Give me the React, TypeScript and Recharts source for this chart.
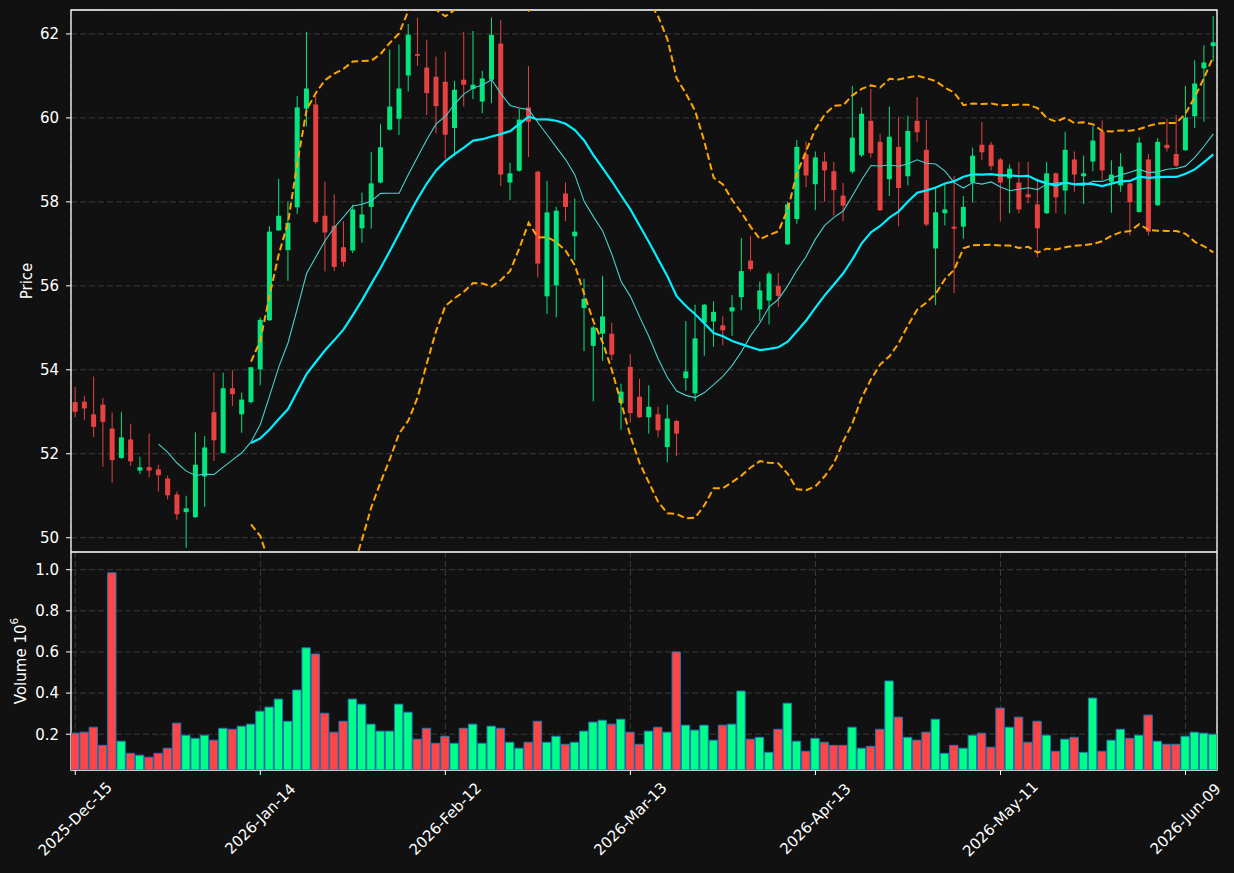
import React from 'react';
import { ComposedChart, Bar, Line, XAxis, YAxis, CartesianGrid, ReferenceArea, Cell } from 'recharts';

const tickLabels = ['2025-Dec-15', '2026-Jan-14', '2026-Feb-12', '2026-Mar-13', '2026-Apr-13', '2026-May-11', '2026-Jun-09'];

const openP = [
  53.23, 53.24, 52.94, 53.17, 52.6, 51.9, 52.34, 51.6, 51.68, 51.63,
  51.41, 51.03, 50.61, 50.49, 51.46, 52.99, 52.02, 53.56, 52.94, 53.23,
  54.01, 55.18, 57.32, 56.85, 57.87, 60.22, 60.32, 57.67, 57.43, 56.92,
  56.84, 57.37, 57.88, 58.46, 59.72, 59.98, 61.01, 61.52, 61.2, 60.98,
  60.86, 59.76, 60.91, 60.69, 60.39, 60.91, 61.77, 58.46, 58.74, 60.25,
  58.72, 55.75, 56.01, 58.2, 57.18, 55.47, 54.57, 54.86, 54.86, 53.21,
  54.07, 53.36, 52.87, 52.94, 52.16, 52.78, 53.8, 53.44, 55.12, 55.15,
  55.06, 55.39, 55.73, 56.6, 55.44, 55.65, 56.0, 56.99, 57.59, 59.13,
  58.42, 58.96, 58.73, 58.15, 58.72, 59.11, 59.93, 59.43, 58.54, 59.31,
  58.61, 59.93, 59.24, 56.89, 57.73, 57.41, 57.41, 58.46, 59.36, 59.36,
  59.01, 58.56, 58.46, 58.18, 57.94, 57.73, 58.68, 58.27, 59.01, 58.61,
  58.96, 59.67, 58.48, 58.39, 58.44, 57.76, 59.01, 57.92, 59.36, 59.14,
  59.23, 60.04, 61.18, 61.71,
];
const highP = [
  53.59, 53.38, 53.84, 53.33, 52.98, 53.0, 52.71, 51.93, 52.48, 51.74,
  51.48, 51.1, 51.0, 52.51, 52.42, 53.93, 53.93, 53.99, 53.46, 54.07,
  55.25, 57.42, 58.55, 58.01, 60.52, 62.05, 60.52, 58.48, 58.18, 57.54,
  57.93, 58.22, 59.19, 59.86, 61.63, 61.75, 62.24, 62.39, 61.86, 61.46,
  61.58, 60.88, 62.05, 62.07, 61.12, 62.39, 62.33, 58.93, 60.22, 61.23,
  58.74, 58.5, 57.88, 58.46, 58.08, 56.17, 55.05, 56.24, 55.12, 53.67,
  54.37, 53.79, 53.63, 53.12, 53.17, 52.81, 55.16, 55.55, 55.57, 55.63,
  55.27, 55.78, 57.14, 57.19, 56.1, 56.34, 56.31, 58.0, 59.47, 59.44,
  59.2, 59.18, 58.95, 58.45, 60.76, 60.25, 60.69, 59.62, 60.27, 60.03,
  60.05, 60.49, 59.95, 58.35, 58.44, 58.62, 58.14, 59.29, 59.9, 59.43,
  59.05, 58.89, 58.95, 58.95, 58.56, 58.95, 58.7, 59.67, 59.2, 59.1,
  59.8, 59.94, 58.99, 59.16, 58.46, 59.54, 59.14, 59.52, 59.98, 60.07,
  60.76, 61.37, 61.73, 62.43,
];
const lowP = [
  52.87, 52.8, 52.4, 51.69, 51.31, 51.88, 51.71, 51.52, 51.44, 51.1,
  50.91, 50.43, 49.76, 50.47, 50.74, 51.83, 52.0, 53.14, 52.5, 53.2,
  53.63, 55.16, 57.31, 56.12, 57.71, 59.8, 57.48, 56.34, 56.35, 56.46,
  56.78, 57.03, 57.36, 58.44, 59.7, 59.59, 60.63, 61.24, 60.07, 59.63,
  59.03, 59.09, 60.27, 60.45, 60.11, 60.35, 58.38, 58.04, 58.72, 59.07,
  56.2, 55.33, 55.25, 57.54, 56.61, 54.44, 53.25, 54.21, 54.23, 52.57,
  52.74, 52.85, 52.48, 52.39, 51.8, 51.95, 53.5, 53.25, 54.33, 54.55,
  54.58, 54.81, 55.42, 56.35, 55.16, 55.08, 55.5, 56.97, 57.48, 58.35,
  57.8, 58.0, 57.67, 57.54, 58.67, 59.07, 59.05, 57.78, 58.14, 57.42,
  58.39, 59.43, 57.42, 55.54, 57.44, 55.83, 57.12, 57.99, 58.99, 58.75,
  57.53, 57.73, 57.73, 57.97, 56.68, 57.71, 57.73, 57.71, 58.24, 57.95,
  58.73, 58.52, 57.74, 58.24, 57.2, 57.74, 57.2, 57.9, 59.2, 58.82,
  59.21, 59.76, 59.91, 61.35,
];
const closeP = [
  53.0, 53.08, 52.64, 52.76, 51.85, 52.39, 51.82, 51.68, 51.6, 51.49,
  51.01, 50.56, 50.7, 51.74, 52.15, 52.32, 53.56, 53.42, 53.29, 54.06,
  55.19, 57.29, 57.67, 57.5, 60.25, 60.7, 57.52, 57.27, 56.45, 56.57,
  57.82, 57.7, 58.44, 59.3, 60.27, 60.7, 61.98, 61.48, 60.59, 60.28,
  59.6, 60.67, 60.79, 60.79, 60.94, 61.98, 58.65, 58.68, 59.96, 59.91,
  56.53, 57.75, 57.79, 57.88, 57.29, 55.69, 55.01, 55.27, 54.36, 53.48,
  52.97, 52.87, 53.12, 52.56, 52.84, 52.48, 53.96, 54.75, 55.55, 55.38,
  54.94, 55.49, 56.35, 56.4, 55.89, 56.29, 55.76, 57.94, 59.31, 58.63,
  59.06, 58.75, 58.28, 57.91, 59.53, 60.1, 59.16, 57.8, 59.55, 58.33,
  59.69, 59.66, 57.46, 57.75, 57.82, 57.36, 57.88, 59.1, 59.18, 58.85,
  58.46, 58.79, 57.82, 58.11, 57.37, 58.68, 58.11, 59.24, 58.65, 58.68,
  59.46, 58.75, 58.65, 58.84, 57.99, 59.41, 57.29, 59.43, 59.28, 58.86,
  60.01, 60.82, 61.32, 61.8,
];
// volume in millions
const volumeM = [
  0.205, 0.21, 0.234, 0.146, 0.985, 0.166, 0.107, 0.098, 0.088, 0.107,
  0.132, 0.254, 0.195, 0.18, 0.195, 0.171, 0.229, 0.224, 0.239, 0.249,
  0.312, 0.332, 0.371, 0.263, 0.415, 0.62, 0.59, 0.302, 0.21, 0.263,
  0.371, 0.346, 0.249, 0.215, 0.215, 0.346, 0.307, 0.176, 0.229, 0.156,
  0.19, 0.156, 0.229, 0.249, 0.156, 0.239, 0.229, 0.161, 0.132, 0.161,
  0.263, 0.161, 0.19, 0.151, 0.161, 0.215, 0.259, 0.268, 0.249, 0.273,
  0.21, 0.151, 0.215, 0.234, 0.21, 0.6, 0.244, 0.22, 0.244, 0.171,
  0.244, 0.249, 0.41, 0.176, 0.185, 0.112, 0.224, 0.351, 0.166, 0.117,
  0.18, 0.161, 0.146, 0.146, 0.234, 0.132, 0.141, 0.224, 0.459, 0.283,
  0.185, 0.171, 0.21, 0.273, 0.107, 0.146, 0.132, 0.195, 0.205, 0.137,
  0.327, 0.234, 0.283, 0.161, 0.263, 0.195, 0.117, 0.176, 0.185, 0.112,
  0.376, 0.117, 0.171, 0.224, 0.18, 0.195, 0.293, 0.166, 0.151, 0.151,
  0.19, 0.21, 0.205, 0.2,
];

const xTicks = [0, 20, 40, 60, 80, 100, 120];
const priceTicks = [50, 52, 54, 56, 58, 60, 62];
const volTicks = [0.2, 0.4, 0.6, 0.8, 1.0];

const BG = '#111111';
const UP = '#05e57f';
const DOWN = '#e64242';
const VUP = '#00ff88';
const VDOWN = '#ff4545';
const GRID = '#3a3a3a';
const FONT = 'DejaVu Sans, sans-serif';
const FS = 15;
const X_DOMAIN: [number, number] = [-0.46, 123.4];
const P_DOMAIN: [number, number] = [49.66, 62.57];
const V_DOMAIN: [number, number] = [0.026, 1.086];

// moving averages / Bollinger bands derived from the closes (20-period, 2 sigma)
const sma = (n: number, i: number) => {
  if (i < n - 1) return null;
  let s = 0;
  for (let k = i - n + 1; k <= i; k++) s += closeP[k];
  return s / n;
};
const sd = (n: number, i: number) => {
  const m = sma(n, i);
  if (m == null) return null;
  let s = 0;
  for (let k = i - n + 1; k <= i; k++) s += (closeP[k] - m) ** 2;
  return Math.sqrt(s / (n - 1));
};

const rows = closeP.map((c, i) => {
  const m20 = sma(20, i);
  const s20 = sd(20, i);
  return {
    i,
    open: openP[i],
    high: highP[i],
    low: lowP[i],
    close: c,
    vol: volumeM[i],
    ma10: sma(10, i),
    ma20: m20,
    bbUp: m20 != null && s20 != null ? m20 + 2 * s20 : null,
    bbLow: m20 != null && s20 != null ? m20 - 2 * s20 : null,
  };
});

const Candle = (props: any) => {
  const { x, y, width, height, payload } = props;
  if (x == null || y == null || !payload) return null;
  const top = Math.min(y, y + height);
  const h = Math.abs(height);
  const range = payload.high - payload.low;
  const ppu = range > 0 ? h / range : 0;
  const up = payload.close >= payload.open;
  const color = up ? UP : DOWN;
  const bTop = top + (payload.high - Math.max(payload.open, payload.close)) * ppu;
  const bBot = top + (payload.high - Math.min(payload.open, payload.close)) * ppu;
  const cx = x + width / 2;
  return (
    <g>
      <line x1={cx} x2={cx} y1={top} y2={top + h} stroke={color} strokeWidth={1} />
      <rect x={x} y={bTop} width={width} height={Math.max(bBot - bTop, 1)} fill={color} />
    </g>
  );
};

const XTick = (props: any) => {
  const { x, y, payload } = props;
  const label = tickLabels[Math.round(payload.value / 20)] ?? '';
  return (
    <text
      transform={`translate(${x},${y + 42}) rotate(-45)`}
      textAnchor="middle"
      dominantBaseline="central"
      fill="#ffffff"
      fontSize={FS}
      fontFamily={FONT}
    >
      {label}
    </text>
  );
};

const PriceTitle = (props: any) => {
  const vb = props.viewBox || { x: 0, y: 0, width: 0, height: 0 };
  const cx = 27;
  const cy = vb.y + vb.height / 2;
  return (
    <text x={cx} y={cy} transform={`rotate(-90, ${cx}, ${cy})`} textAnchor="middle" dominantBaseline="central" fill="#ffffff" fontSize={FS} fontFamily={FONT}>
      Price
    </text>
  );
};

const VolTitle = (props: any) => {
  const vb = props.viewBox || { x: 0, y: 0, width: 0, height: 0 };
  const cx = 21;
  const cy = vb.y + vb.height / 2;
  return (
    <text x={cx} y={cy} transform={`rotate(-90, ${cx}, ${cy})`} textAnchor="middle" dominantBaseline="central" fill="#ffffff" fontSize={FS} fontFamily={FONT}>
      <tspan>{'Volume  10'}</tspan>
      <tspan dy={-7} fontSize={10.5}>6</tspan>
    </text>
  );
};

const tickStyle = { fill: '#ffffff', fontSize: FS, fontFamily: FONT };

export default function App() {
  return (
    <div style={{ position: 'absolute', left: 0, top: 0, width: 1234, height: 873, background: BG, overflow: 'hidden' }}>
      <div style={{ position: 'absolute', left: 0, top: 0 }}>
        <ComposedChart width={1234} height={552} data={rows} margin={{ top: 10, right: 17, bottom: 0, left: 11 }}>
          <CartesianGrid stroke={GRID} strokeDasharray="6 3" />
          <XAxis
            dataKey="i"
            type="number"
            domain={X_DOMAIN}
            ticks={xTicks}
            allowDataOverflow
            height={0}
            tick={false}
            tickLine={false}
            axisLine={false}
          />
          <YAxis
            type="number"
            domain={P_DOMAIN}
            ticks={priceTicks}
            allowDataOverflow
            width={60}
            tick={tickStyle}
            tickSize={5}
            tickMargin={7}
            tickLine={{ stroke: '#ffffff' }}
            axisLine={false}
            interval={0}
            label={<PriceTitle />}
          />
          <Bar dataKey={(d: any) => [d.low, d.high]} barSize={5} shape={<Candle />} isAnimationActive={false} />
          <Line dataKey="bbUp" stroke="#ffa500" strokeWidth={2} strokeDasharray="7 3.5" dot={false} activeDot={false} isAnimationActive={false} />
          <Line dataKey="bbLow" stroke="#ffa500" strokeWidth={2} strokeDasharray="7 3.5" dot={false} activeDot={false} isAnimationActive={false} />
          <Line dataKey="ma10" stroke="#48d1cc" strokeWidth={1.1} dot={false} activeDot={false} isAnimationActive={false} />
          <Line dataKey="ma20" stroke="#00f0ff" strokeWidth={2.2} dot={false} activeDot={false} isAnimationActive={false} />
          <ReferenceArea x1={X_DOMAIN[0]} x2={X_DOMAIN[1]} y1={P_DOMAIN[0]} y2={P_DOMAIN[1]} fill="none" stroke="#ffffff" strokeWidth={1.3} ifOverflow="visible" />
        </ComposedChart>
      </div>
      <div style={{ position: 'absolute', left: 0, top: 552 }}>
        <ComposedChart width={1234} height={321} data={rows} margin={{ top: 0, right: 17, bottom: 0, left: 11 }}>
          <CartesianGrid stroke={GRID} strokeDasharray="6 3" />
          <XAxis
            dataKey="i"
            type="number"
            domain={X_DOMAIN}
            ticks={xTicks}
            allowDataOverflow
            height={103}
            interval={0}
            tick={<XTick />}
            tickSize={5}
            tickLine={{ stroke: '#ffffff' }}
            axisLine={false}
          />
          <YAxis
            type="number"
            domain={V_DOMAIN}
            ticks={volTicks}
            allowDataOverflow
            width={60}
            tick={tickStyle}
            tickFormatter={(v: number) => v.toFixed(1)}
            tickSize={5}
            tickMargin={7}
            tickLine={{ stroke: '#ffffff' }}
            axisLine={false}
            interval={0}
            label={<VolTitle />}
          />
          <Bar dataKey="vol" barSize={8.4} stroke="#1f77b4" strokeWidth={1} isAnimationActive={false}>
            {rows.map((r) => (
              <Cell key={r.i} fill={r.close >= r.open ? VUP : VDOWN} />
            ))}
          </Bar>
          <ReferenceArea x1={X_DOMAIN[0]} x2={X_DOMAIN[1]} y1={V_DOMAIN[0]} y2={V_DOMAIN[1]} fill="none" stroke="#ffffff" strokeWidth={1.3} ifOverflow="visible" />
        </ComposedChart>
      </div>
    </div>
  );
}
